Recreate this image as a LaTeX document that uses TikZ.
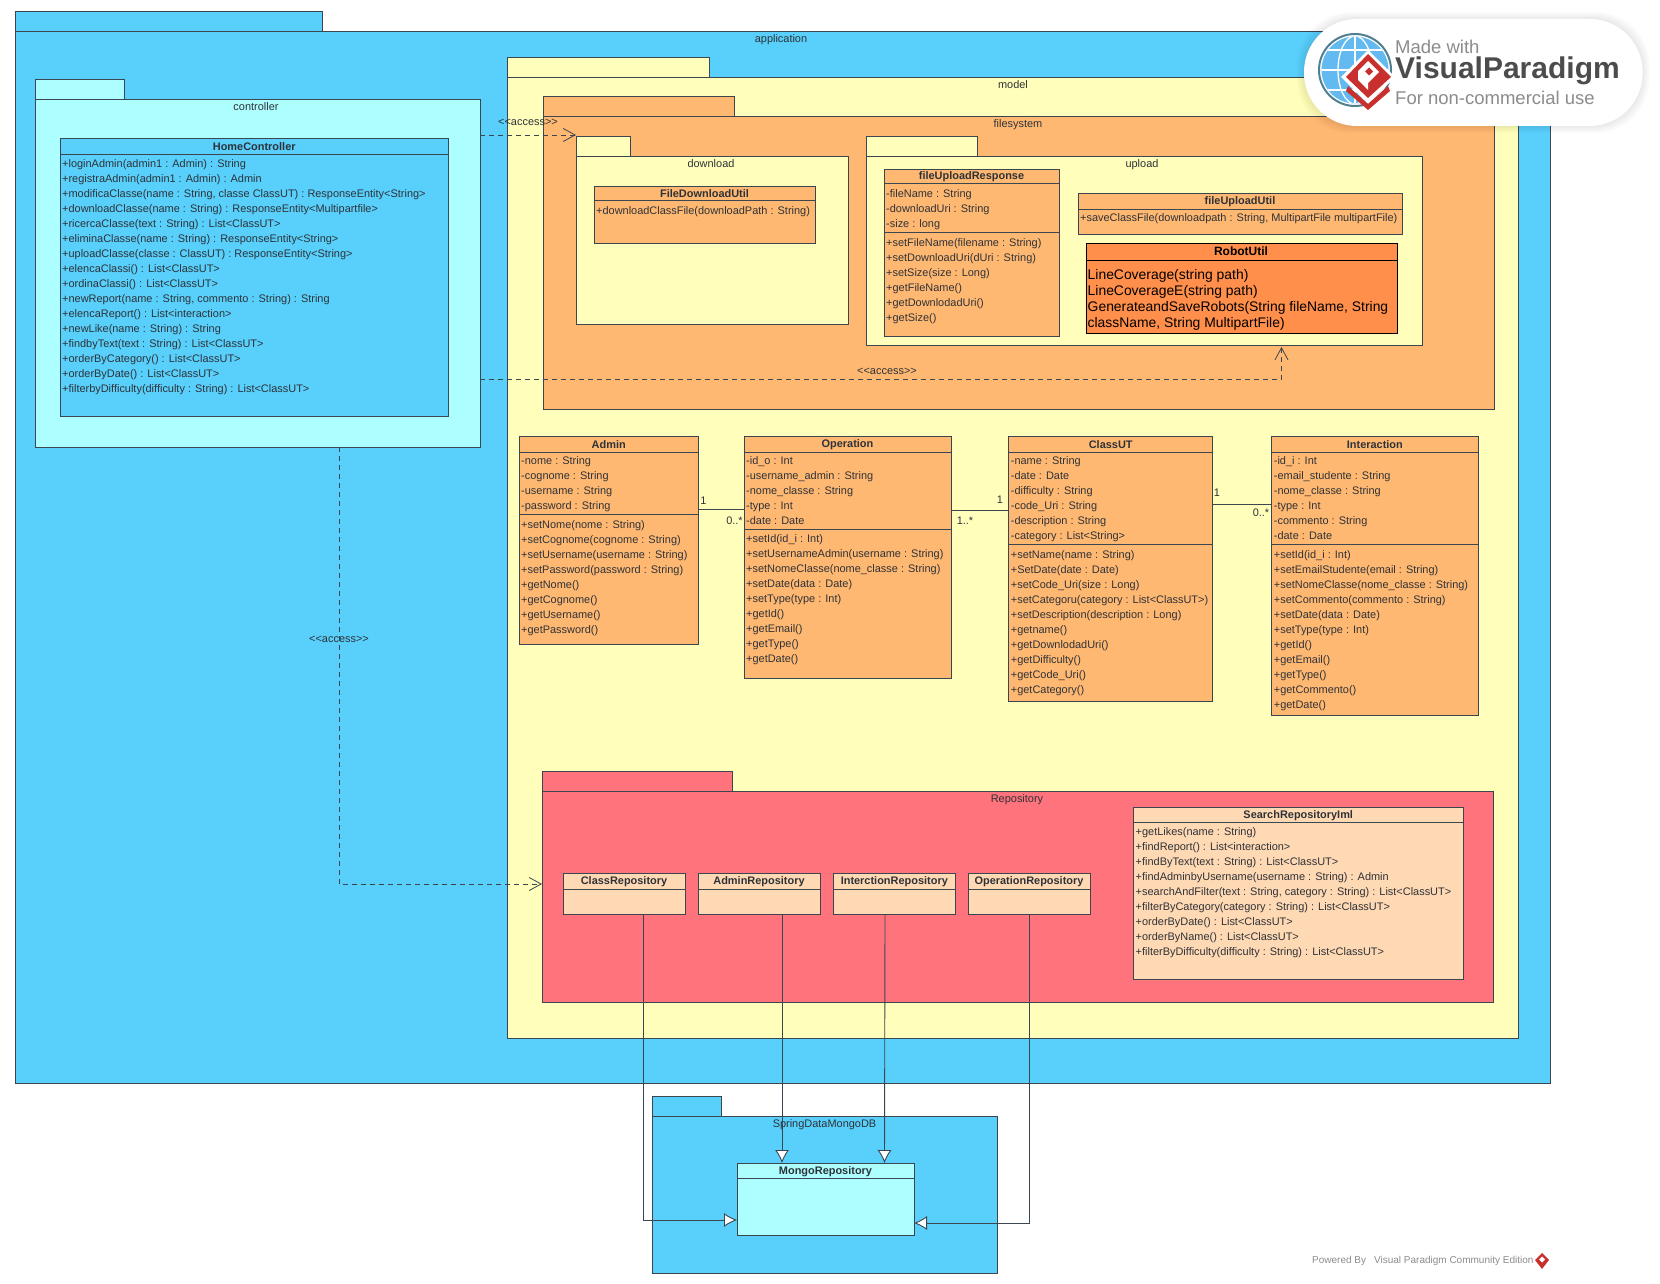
\documentclass[tikz,border=0pt]{standalone}
\usepackage{fontspec}
\setmainfont{Liberation Sans}
\usetikzlibrary{arrows.meta}
\definecolor{cblue}{HTML}{58D0FB}
\definecolor{ccyan}{HTML}{ADFFFF}
\definecolor{cyel}{HTML}{FFFFBB}
\definecolor{corg}{HTML}{FFB871}
\definecolor{cred}{HTML}{FF737D}
\definecolor{cpeach}{HTML}{FFD9B3}
\definecolor{crobot}{HTML}{FF8F4A}
\definecolor{cline}{HTML}{3C4650}
\definecolor{ctext}{HTML}{2E3238}
\definecolor{cvp}{HTML}{C8302D}
\definecolor{cglobe}{HTML}{62BAF0}
\definecolor{cring}{HTML}{4F7F90}
\tikzset{
  x=1pt,y=-1pt,
  shp/.style={draw=cline,line width=0.9pt,inner sep=0pt,outer sep=0pt,anchor=north west},
  lab/.style={font=\fontsize{10.95}{13}\selectfont,text=ctext,inner sep=0pt},
  ttl/.style={font=\fontsize{10.95}{13}\selectfont\bfseries,text=ctext,inner sep=0pt},
  memb/.style={font=\fontsize{10.95}{15}\selectfont,text=ctext,inner sep=0pt,anchor=north west,align=left},
  rule/.style={draw=cline,line width=0.9pt},
  assoc/.style={draw=cline,line width=0.9pt},
  dep/.style={draw=cline,line width=0.8pt,dash pattern=on 5pt off 4pt,-{Straight Barb[length=12pt,width=13pt]}},
  gener/.style={draw=cline,line width=0.9pt,-{Latex[open,length=13pt,width=14pt,fill=white]}},
}
\newcommand{\bx}[6]{\pgfmathsetmacro\bw{#4-#2}\pgfmathsetmacro\bh{#5-#3}%
  \node[shp,#6,minimum width=\bw,minimum height=\bh] (#1) at (#2,#3) {};}
% package: name, x1, tabtop, tabright, bodytop, x2, y2, colour
\newcommand{\pkg}[8]{\bx{#1tab}{#2}{#3}{#4}{#5}{fill=#8}\bx{#1}{#2}{#5}{#6}{#7}{fill=#8}}
% class: name, x1, y1, header bottom, x2, y2, style, title
\newcommand{\cls}[8]{\bx{#1}{#2}{#3}{#5}{#6}{#7}%
  \draw[rule] (#2,#4) -- (#5,#4);
  \node[ttl] (#1title) at ({(#2+#5)/2},{(#3+#4)/2+1}) {#8};}
\newcommand{\mem}[4]{\node[memb] (#1) at (#2,{#3-7}) {\strut #4};}
\newcommand{\acc}{<{}<access>{}>}
\begin{document}
\begin{tikzpicture}
\useasboundingbox (0,0) rectangle (1660,1284);
\fill[white] (0,0) rectangle (1660,1284);
% packages
\pkg{application}{15}{11}{322}{31}{1550}{1083}{cblue}
\node[lab] (applabel) at (781,39.8) {application};
\pkg{controller}{35}{79}{124}{99}{480}{447}{ccyan}
\node[lab] (ctllabel) at (256,107) {controller};
\pkg{model}{507.5}{57}{709}{77}{1518}{1038}{cyel}
\node[lab] (modlabel) at (1013,85) {model};
\pkg{filesystem}{543.5}{96}{734}{116}{1494}{409}{corg}
\node[lab] (fslabel) at (1018,124.8) {filesystem};
\pkg{download}{576}{136}{630}{156}{848}{324}{cyel}
\node[lab] (dllabel) at (711,164) {download};
\pkg{upload}{866}{136}{977}{156}{1422}{345}{cyel}
\node[lab] (uplabel) at (1142,165) {upload};
\pkg{repository}{542}{771}{732}{791}{1493}{1002}{cred}
\node[lab] (repolabel) at (1017,800) {Repository};
\pkg{springdata}{652}{1096}{721}{1116}{997}{1273}{cblue}
\node[lab] (sdlabel) at (824.5,1125) {SpringDataMongoDB};
% HomeController
\cls{home}{60}{138}{154}{448.5}{416}{fill=cblue}{HomeController}
\mem{homeops}{62}{163.5}{+loginAdmin(admin1 : Admin) : String\\
+registraAdmin(admin1 : Admin) : Admin\\
+modificaClasse(name : String, classe ClassUT) : ResponseEntity<String>\\
+downloadClasse(name : String) : ResponseEntity<Multipartfile>\\
+ricercaClasse(text : String) : List<ClassUT>\\
+eliminaClasse(name : String) : ResponseEntity<String>\\
+uploadClasse(classe : ClassUT) : ResponseEntity<String>\\
+elencaClassi() : List<ClassUT>\\
+ordinaClassi() : List<ClassUT>\\
+newReport(name : String, commento : String) : String\\
+elencaReport() : List<interaction>\\
+newLike(name : String) : String\\
+findbyText(text : String) : List<ClassUT>\\
+orderByCategory() : List<ClassUT>\\
+orderByDate() : List<ClassUT>\\
+filterbyDifficulty(difficulty : String) : List<ClassUT>}
% download / upload classes
\cls{fdu}{594}{186}{200}{815}{243}{fill=corg}{FileDownloadUtil}
\mem{fduops}{596}{211}{+downloadClassFile(downloadPath : String)}
\cls{fur}{884}{169}{183}{1059}{336}{fill=corg}{fileUploadResponse}
\draw[rule] (884,232) -- (1059,232);
\mem{furattrs}{886}{194}{-fileName : String\\-downloadUri : String\\-size : long}
\mem{furops}{886}{243}{+setFileName(filename : String)\\+setDownloadUri(dUri : String)\\+setSize(size : Long)\\+getFileName()\\+getDownlodadUri()\\+getSize()}
\cls{fuu}{1078}{193}{209}{1402}{234}{fill=corg}{fileUploadUtil}
\mem{fuuops}{1080}{218}{+saveClassFile(downloadpath : String, MultipartFile multipartFile)}
% RobotUtil
\bx{robot}{1086}{243}{1397.5}{333}{fill=crobot,draw=black}
\draw[draw=black,line width=0.9pt] (1086,260) -- (1397.5,260);
\node[font=\fontsize{12}{14}\selectfont\bfseries,text=black,inner sep=0pt] (robottitle) at (1241,251) {RobotUtil};
\node[font=\fontsize{13.9}{16}\selectfont,text=black,inner sep=0pt,anchor=north west,align=left] (robotops) at (1087.5,268) {\strut LineCoverage(string path)\\LineCoverageE(string path)\\GenerateandSaveRobots(String fileName, String\\className, String MultipartFile)};
% domain classes
\cls{admin}{519}{436}{452}{698.5}{644}{fill=corg}{Admin}
\draw[rule] (519,514) -- (698.5,514);
\mem{adminattrs}{521}{461}{-nome : String\\-cognome : String\\-username : String\\-password : String}
\mem{adminops}{521}{525}{+setNome(nome : String)\\+setCognome(cognome : String)\\+setUsername(username : String)\\+setPassword(password : String)\\+getNome()\\+getCognome()\\+getUsername()\\+getPassword()}
\cls{operation}{744}{436}{452}{951}{678}{fill=corg}{Operation}
\draw[rule] (744,529) -- (951,529);
\mem{opattrs}{746}{461}{-id\_o : Int\\-username\_admin : String\\-nome\_classe : String\\-type : Int\\-date : Date}
\mem{opops}{746}{539}{+setId(id\_i : Int)\\+setUsernameAdmin(username : String)\\+setNomeClasse(nome\_classe : String)\\+setDate(data : Date)\\+setType(type : Int)\\+getId()\\+getEmail()\\+getType()\\+getDate()}
\cls{classut}{1008.7}{436}{452}{1212.7}{701}{fill=corg}{ClassUT}
\draw[rule] (1008.7,544) -- (1212.7,544);
\mem{cuattrs}{1010.7}{461}{-name : String\\-date : Date\\-difficulty : String\\-code\_Uri : String\\-description : String\\-category : List<String>}
\mem{cuops}{1010.7}{555}{+setName(name : String)\\+SetDate(date : Date)\\+setCode\_Uri(size : Long)\\+setCategoru(category : List<ClassUT>)\\+setDescription(description : Long)\\+getname()\\+getDownlodadUri()\\+getDifficulty()\\+getCode\_Uri()\\+getCategory()}
\cls{interaction}{1271.7}{436}{452}{1478}{715}{fill=corg}{Interaction}
\draw[rule] (1271.7,544) -- (1478,544);
\mem{inattrs}{1273.7}{461}{-id\_i : Int\\-email\_studente : String\\-nome\_classe : String\\-type : Int\\-commento : String\\-date : Date}
\mem{inops}{1273.7}{555}{+setId(id\_i : Int)\\+setEmailStudente(email : String)\\+setNomeClasse(nome\_classe : String)\\+setCommento(commento : String)\\+setDate(data : Date)\\+setType(type : Int)\\+getId()\\+getEmail()\\+getType()\\+getCommento()\\+getDate()}
% repository classes
\cls{classrepo}{563}{873}{889}{685}{914}{fill=cpeach}{ClassRepository}
\cls{adminrepo}{698}{873}{889}{820}{914}{fill=cpeach}{AdminRepository}
\cls{interrepo}{833}{873}{889}{955.6}{914}{fill=cpeach}{InterctionRepository}
\cls{oprepo}{968}{873}{889}{1090}{914}{fill=cpeach}{OperationRepository}
\cls{search}{1133.5}{807}{822}{1463}{979}{fill=cpeach}{SearchRepositoryIml}
\mem{searchops}{1135.5}{832}{+getLikes(name : String)\\+findReport() : List<interaction>\\+findByText(text : String) : List<ClassUT>\\+findAdminbyUsername(username : String) : Admin\\+searchAndFilter(text : String, category : String) : List<ClassUT>\\+filterByCategory(category : String) : List<ClassUT>\\+orderByDate() : List<ClassUT>\\+orderByName() : List<ClassUT>\\+filterByDifficulty(difficulty : String) : List<ClassUT>}
% Mongo
\cls{mongo}{737}{1163}{1178}{914}{1235}{fill=ccyan}{MongoRepository}
% associations
\draw[assoc] ([yshift=-73pt]admin.north east) -- ([yshift=-73pt]operation.north west);
\draw[assoc] ([yshift=-74pt]operation.north east) -- ([yshift=-74pt]classut.north west);
\draw[assoc] ([yshift=-68.5pt]classut.north east) -- ([yshift=-68.5pt]interaction.north west);
\node[lab] (m1) at (703.5,501) {1};
\node[lab] (m2) at (734.5,521) {0..*};
\node[lab] (m3) at (965,521) {1..*};
\node[lab] (m4) at (1000,500) {1};
\node[lab] (m5) at (1217,493) {1};
\node[lab] (m6) at (1261,513) {0..*};
% access dependencies
\draw[dep] ([yshift=-36pt]controller.north east) -- ([yshift=1pt]downloadtab.north west);
\draw[dep] ([yshift=-280pt]controller.north east) -| ([xshift=137.5pt,yshift=-2pt]upload.south);
\draw[dep] ([xshift=81.5pt]controller.south) |- ([yshift=12.5pt]repository.west);
\node[lab] (acc1) at (528,122.5) {\acc};
\node[lab] (acc2) at (887,371.5) {\acc};
\node[lab] (acc3) at (339,639.5) {\acc};
% generalisations
\draw[gener] ([xshift=19pt]classrepo.south) |- ([yshift=-21pt]mongo.east -| mongo.west);
\draw[gener] ([xshift=23pt]adminrepo.south) -- ([xshift=-43.5pt]mongo.north);
\draw[gener] ([xshift=-9.3pt]interrepo.south) -- ([xshift=59pt]mongo.north);
\draw[gener] ([xshift=0.5pt]oprepo.south) |- ([yshift=-24pt]mongo.east);
% footer
\node[font=\fontsize{10}{12}\selectfont,text=black!45,inner sep=0pt,anchor=west] (powered) at (1312,1261) {Powered By\hspace{8pt}Visual Paradigm Community Edition};
\fill[cvp] (1542,1253) -- (1549,1260) -- (1542,1269) -- (1535,1260) -- cycle;
\fill[white] (1542,1256.5) -- (1545,1259.5) -- (1542,1262.5) -- (1539,1259.5) -- cycle;
% watermark
\foreach \s in {7,6,5,4,3,2,1}{
  \fill[black,opacity=0.012,rounded corners=53pt] (1304-\s,19-\s) rectangle (1642.6+\s,126+\s);}
\fill[white,rounded corners=53pt] (1304,19) rectangle (1642.6,126);
\fill[cglobe] (1355,70) circle [radius=33.5];
\begin{scope}
\clip (1355,70) circle [radius=33.5];
\draw[white,line width=1.3pt] (1355,35) -- (1355,105);
\draw[white,line width=1.3pt] (1355,70) ellipse [x radius=17,y radius=34];
\draw[white,line width=1.3pt] (1320,70) -- (1390,70);
\draw[white,line width=1.3pt] (1322,50) -- (1388,50);
\draw[white,line width=1.3pt] (1322,90) -- (1388,90);
\end{scope}
\draw[cring,line width=2pt] (1355,70) circle [radius=36];
\fill[white] (1368,50) -- (1395,77) -- (1368,104) -- (1341,77) -- cycle;
\fill[cvp] (1368,54) -- (1391,77) -- (1368,98) -- (1346,77) -- cycle;
\fill[white] (1368,61) -- (1379,72) -- (1368,83) -- (1368,90) -- (1358,80) -- (1358,71) -- cycle;
\fill[cvp] (1369,67.5) -- (1373,71.5) -- (1369,75.5) -- (1365,71.5) -- cycle;
\fill[cvp] (1348,86) -- (1368,104) -- (1388,86) -- (1390,91) -- (1368,110) -- (1346,91) -- cycle;
\node[font=\fontsize{18.5}{20}\selectfont,text=black!45,inner sep=0pt,anchor=west] (wm1) at (1395,47) {Made with};
\node[font=\fontsize{30}{34}\selectfont\bfseries,text=black!70,inner sep=0pt,anchor=west] (wm2) at (1395,71) {VisualParadigm};
\node[font=\fontsize{18.5}{20}\selectfont,text=black!45,inner sep=0pt,anchor=west] (wm3) at (1395,98) {For non-commercial use};
\end{tikzpicture}
\end{document}
